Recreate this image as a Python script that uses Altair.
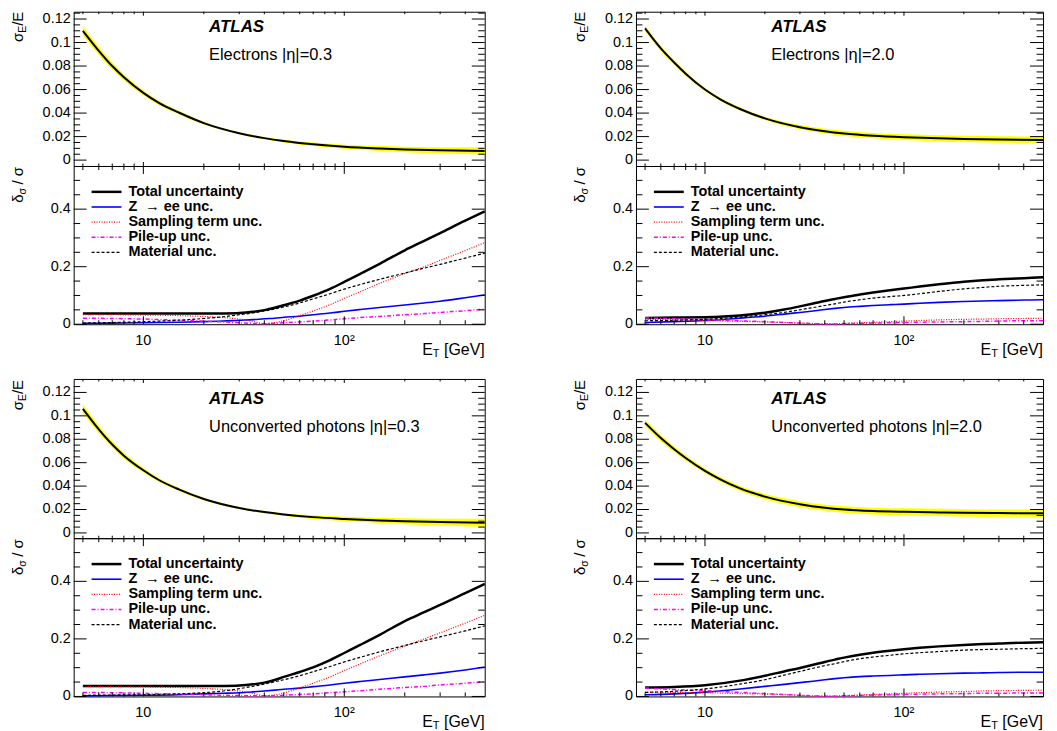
import altair as alt
import pandas as pd

FONT = "Liberation Sans"

# ---------------- data ----------------
E_TOP = [5, 6, 7, 8, 10, 12, 15, 20, 30, 40, 50, 70, 100, 150, 200, 300, 500]
E_UNC = [5, 7, 10, 15, 20, 25, 30, 35, 40, 45, 50, 60, 70, 85, 100, 120, 150, 200, 250, 300, 400, 500]

# Electrons |eta|=0.3
res_A = [0.110, 0.093, 0.080, 0.0705, 0.0572, 0.0485, 0.0405, 0.0315, 0.0229, 0.0187, 0.0162, 0.0134, 0.0113, 0.0098, 0.0090, 0.0083, 0.0078]
band_A = [0.0041, 0.0034, 0.0030, 0.0026, 0.0021, 0.0018, 0.0015, 0.0012, 0.0008, 0.0010, 0.0012, 0.0015, 0.0017, 0.0021, 0.0024, 0.0027, 0.0031]
tot_A = [0.037, 0.037, 0.037, 0.037, 0.037, 0.0375, 0.039, 0.043, 0.049, 0.057, 0.066, 0.082, 0.099, 0.123, 0.147, 0.175, 0.21, 0.257, 0.29, 0.317, 0.36, 0.392]
zee_A = [0.003, 0.004, 0.005, 0.007, 0.009, 0.011, 0.014, 0.016, 0.019, 0.021, 0.024, 0.028, 0.033, 0.039, 0.045, 0.051, 0.058, 0.067, 0.074, 0.080, 0.092, 0.102]
samp_A = [0.033, 0.033, 0.032, 0.030, 0.027, 0.023, 0.018, 0.010, 0.002, 0.006, 0.012, 0.030, 0.046, 0.068, 0.090, 0.113, 0.142, 0.176, 0.200, 0.222, 0.256, 0.284]
pile_A = [0.021, 0.020, 0.018, 0.014, 0.011, 0.008, 0.005, 0.003, 0.002, 0.003, 0.005, 0.008, 0.011, 0.015, 0.019, 0.023, 0.027, 0.033, 0.037, 0.041, 0.047, 0.052]
mat_A = [0.004, 0.006, 0.009, 0.014, 0.020, 0.026, 0.033, 0.039, 0.046, 0.053, 0.060, 0.074, 0.088, 0.106, 0.122, 0.138, 0.156, 0.178, 0.195, 0.208, 0.230, 0.247]

# Electrons |eta|=2.0
res_B = [0.112, 0.095, 0.083, 0.0735, 0.060, 0.0515, 0.0435, 0.0355, 0.028, 0.0246, 0.0227, 0.0208, 0.0195, 0.0185, 0.018, 0.0175, 0.0172]
band_B = [0.0025, 0.0021, 0.0019, 0.0017, 0.0014, 0.0014, 0.0013, 0.0014, 0.0018, 0.0020, 0.0022, 0.0023, 0.0024, 0.0026, 0.0027, 0.0027, 0.0028]
tot_B = [0.022, 0.023, 0.024, 0.030, 0.040, 0.051, 0.062, 0.072, 0.081, 0.088, 0.094, 0.103, 0.110, 0.118, 0.124, 0.131, 0.139, 0.148, 0.153, 0.156, 0.160, 0.163]
zee_B = [0.006, 0.009, 0.013, 0.021, 0.028, 0.035, 0.041, 0.046, 0.051, 0.055, 0.058, 0.062, 0.065, 0.068, 0.070, 0.073, 0.076, 0.079, 0.081, 0.082, 0.084, 0.085]
samp_B = [0.017, 0.015, 0.013, 0.010, 0.008, 0.006, 0.004, 0.002, 0.001, 0.002, 0.003, 0.005, 0.007, 0.009, 0.011, 0.013, 0.015, 0.017, 0.018, 0.019, 0.020, 0.021]
pile_B = [0.022, 0.019, 0.016, 0.012, 0.009, 0.006, 0.004, 0.002, 0.001, 0.001, 0.002, 0.003, 0.004, 0.005, 0.006, 0.007, 0.008, 0.009, 0.010, 0.011, 0.012, 0.012]
mat_B = [0.012, 0.014, 0.017, 0.025, 0.033, 0.041, 0.050, 0.058, 0.065, 0.071, 0.077, 0.085, 0.091, 0.096, 0.100, 0.106, 0.114, 0.123, 0.128, 0.132, 0.135, 0.137]

# Unconverted photons |eta|=0.3
res_C = [0.106, 0.0885, 0.0755, 0.066, 0.0535, 0.045, 0.0372, 0.029, 0.0213, 0.0178, 0.0158, 0.0135, 0.0120, 0.0107, 0.0100, 0.0093, 0.0087]
band_C = [0.0038, 0.0032, 0.0027, 0.0024, 0.0019, 0.0016, 0.0013, 0.0010, 0.0008, 0.0009, 0.0011, 0.0015, 0.0019, 0.0023, 0.0026, 0.0029, 0.0034]
tot_C = [0.036, 0.036, 0.036, 0.036, 0.036, 0.0365, 0.038, 0.042, 0.048, 0.057, 0.068, 0.085, 0.101, 0.126, 0.151, 0.179, 0.214, 0.262, 0.293, 0.318, 0.359, 0.391]
zee_C = [0.002, 0.003, 0.004, 0.006, 0.009, 0.011, 0.013, 0.016, 0.019, 0.022, 0.025, 0.029, 0.034, 0.040, 0.046, 0.052, 0.059, 0.068, 0.075, 0.081, 0.092, 0.102]
samp_C = [0.034, 0.034, 0.033, 0.031, 0.028, 0.024, 0.019, 0.011, 0.003, 0.005, 0.012, 0.030, 0.046, 0.068, 0.090, 0.113, 0.141, 0.175, 0.200, 0.221, 0.255, 0.282]
pile_C = [0.014, 0.013, 0.011, 0.008, 0.006, 0.004, 0.003, 0.002, 0.002, 0.003, 0.004, 0.007, 0.009, 0.013, 0.016, 0.020, 0.025, 0.031, 0.035, 0.040, 0.046, 0.051]
mat_C = [0.004, 0.005, 0.006, 0.009, 0.013, 0.019, 0.027, 0.035, 0.043, 0.051, 0.058, 0.072, 0.086, 0.104, 0.120, 0.136, 0.155, 0.177, 0.194, 0.207, 0.228, 0.245]

# Unconverted photons |eta|=2.0
res_D = [0.094, 0.081, 0.0715, 0.064, 0.053, 0.0455, 0.038, 0.031, 0.0245, 0.0215, 0.0200, 0.0187, 0.0180, 0.0175, 0.0172, 0.0170, 0.0168]
band_D = [0.0029, 0.0026, 0.0024, 0.0022, 0.0020, 0.0020, 0.0021, 0.0022, 0.0025, 0.0026, 0.0028, 0.0029, 0.0030, 0.0031, 0.0031, 0.0031, 0.0032]
tot_D = [0.031, 0.033, 0.039, 0.055, 0.072, 0.087, 0.099, 0.110, 0.120, 0.128, 0.135, 0.145, 0.152, 0.159, 0.164, 0.169, 0.174, 0.179, 0.182, 0.184, 0.187, 0.188]
zee_D = [0.006, 0.009, 0.015, 0.026, 0.035, 0.042, 0.048, 0.053, 0.058, 0.062, 0.065, 0.069, 0.071, 0.073, 0.075, 0.077, 0.079, 0.081, 0.082, 0.083, 0.084, 0.084]
samp_D = [0.015, 0.014, 0.013, 0.010, 0.008, 0.006, 0.004, 0.002, 0.001, 0.002, 0.003, 0.005, 0.007, 0.009, 0.011, 0.013, 0.015, 0.017, 0.019, 0.020, 0.021, 0.022]
pile_D = [0.029, 0.024, 0.020, 0.014, 0.010, 0.007, 0.004, 0.002, 0.001, 0.001, 0.002, 0.003, 0.005, 0.006, 0.007, 0.008, 0.009, 0.010, 0.011, 0.011, 0.012, 0.012]
mat_D = [0.014, 0.018, 0.026, 0.043, 0.058, 0.074, 0.087, 0.098, 0.107, 0.114, 0.121, 0.131, 0.137, 0.143, 0.148, 0.152, 0.156, 0.161, 0.163, 0.164, 0.166, 0.167]

LABELS = ["Electrons |\u03b7|=0.3", "Electrons |\u03b7|=2.0",
          "Unconverted photons |\u03b7|=0.3", "Unconverted photons |\u03b7|=2.0"]
LEGEND = ["Total uncertainty", "Z\u00a0 \u2192 ee unc.", "Sampling term unc.",
          "Pile-up unc.", "Material unc."]

TOP_Y_MAJOR = [0, 0.02, 0.04, 0.06, 0.08, 0.1, 0.12]
TOP_Y_LABELS = ["0", "0.02", "0.04", "0.06", "0.08", "0.1", "0.12"]
TOP_Y_MINOR = [0.005, 0.01, 0.015, 0.025, 0.03, 0.035, 0.045, 0.05, 0.055, 0.065,
               0.07, 0.075, 0.085, 0.09, 0.095, 0.105, 0.11, 0.115, 0.125]
BOT_Y_MAJOR = [0, 0.2, 0.4]
BOT_Y_LABELS = ["0", "0.2", "0.4"]
BOT_Y_MINOR = [0.05, 0.1, 0.15, 0.25, 0.3, 0.35, 0.45, 0.5]
X_MAJOR = [10, 100]
X_LABELS = ["10", "10\u00b2"]
X_MINOR = [5, 6, 7, 8, 9, 20, 30, 40, 50, 60, 70, 80, 90, 200, 300, 400]
X_DOMAIN = [4.5, 500]
TOP_DOMAIN_R1 = [-0.005, 0.1262]
TOP_DOMAIN_R2 = [-0.0045, 0.1315]
BOT_DOMAIN = [0, 0.55]

# ---------------- layout / style ----------------
W_L, W_R = 413, 409
H_TOP_R1, H_TOP_R2, H_BOT = 155, 160, 159
ROW_GAP, COL_GAP = 55, 152
Y_MAJ, Y_MIN = 13, 6.5
STYLES = [  # column, color, width, dash
    ("tot", "black", 2.5, None),
    ("zee", "#0000ff", 1.6, None),
    ("samp", "#ff0000", 1.2, [1, 1.5]),
    ("pile", "#ff00ff", 1.5, [4, 2, 1, 2]),
    ("mat", "black", 1.2, [3, 2]),
]

one = pd.DataFrame({"d": [0]})


def xscale():
    return alt.Scale(type="log", domain=X_DOMAIN, nice=False)


def yscale(dom):
    return alt.Scale(domain=dom, nice=False, zero=False)


def txt(t, x, y, size, **kw):
    return alt.Chart(one).mark_text(text=t, font=FONT, fontSize=size, color="black", **kw).encode(
        x=alt.value(x), y=alt.value(y))


def ticks(W, H, ysc, ymaj, ymin, xmaj_len, xmin_len):
    out = []
    for vals, L in [(ymaj, Y_MAJ), (ymin, Y_MIN)]:
        base = alt.Chart(pd.DataFrame({"t": vals})).mark_rule(color="black", strokeWidth=1)
        yy = alt.Y("t:Q", scale=ysc, axis=None)
        out.append(base.encode(y=yy, x=alt.value(0), x2=alt.value(L)))
        out.append(base.encode(y=yy, x=alt.value(W), x2=alt.value(W - L)))
    for vals, L in [(X_MAJOR, xmaj_len), (X_MINOR, xmin_len)]:
        base = alt.Chart(pd.DataFrame({"t": vals})).mark_rule(color="black", strokeWidth=1)
        xx = alt.X("t:Q", scale=xscale(), axis=None)
        out.append(base.encode(x=xx, y=alt.value(H), y2=alt.value(H - L)))
        out.append(base.encode(x=xx, y=alt.value(0), y2=alt.value(L)))
    return out


def ylabels(ysc, vals, labels):
    df = pd.DataFrame({"t": vals, "lab": labels})
    return alt.Chart(df).mark_text(font=FONT, fontSize=14.5, color="black", align="right",
                                   baseline="middle").encode(
        y=alt.Y("t:Q", scale=ysc, axis=None), x=alt.value(-3), text="lab:N")


def xlabels(H):
    df = pd.DataFrame({"t": X_MAJOR, "lab": X_LABELS})
    return alt.Chart(df).mark_text(font=FONT, fontSize=14.5, color="black", align="center",
                                   baseline="top").encode(
        x=alt.X("t:Q", scale=xscale(), axis=None), y=alt.value(H + 9.5), text="lab:N")


def rot_title(pieces, bx, y0):
    out = []
    y = y0
    for t, size, dx, w in pieces:
        out.append(alt.Chart(one).mark_text(text=t, font=FONT, fontSize=size, angle=270, align="right",
                                            baseline="alphabetic", color="black").encode(
            x=alt.value(bx + dx), y=alt.value(y)))
        y += w
    return out


def top_panel(res, half, label, W, H, dom, ty, title_y):
    df = pd.DataFrame({"E": E_TOP, "v": res,
                       "lo": [r - h for r, h in zip(res, half)],
                       "hi": [r + h for r, h in zip(res, half)]})
    ysc = yscale(dom)
    x = alt.X("E:Q", scale=xscale(), axis=None)
    band = alt.Chart(df).mark_area(color="#ffff00", opacity=1, interpolate="monotone").encode(
        x=x, y=alt.Y("lo:Q", scale=ysc, axis=None), y2="hi:Q")
    line = alt.Chart(df).mark_line(color="black", strokeWidth=2, interpolate="monotone").encode(
        x=x, y=alt.Y("v:Q", scale=ysc, axis=None))
    layers = [band, line] + ticks(W, H, ysc, TOP_Y_MAJOR, TOP_Y_MINOR, 4, 2.5)
    layers.append(ylabels(ysc, TOP_Y_MAJOR, TOP_Y_LABELS))
    layers.append(txt("ATLAS", 136, ty, 17, fontWeight="bold", fontStyle="italic", align="left"))
    layers.append(txt(label, 136, ty + 28, 16.5, align="left"))
    layers += rot_title([("/E", 15, 0, 14.2), ("E", 10.5, 3, 7.0), ("\u03c3", 15, 0, 9.0)], -51, title_y)
    return alt.layer(*layers).properties(width=W, height=H)


def bottom_panel(series, W):
    cols = [s[0] for s in STYLES]
    df = pd.DataFrame({"E": E_UNC, **{c: v for c, v in zip(cols, series)}})
    ysc = yscale(BOT_DOMAIN)
    layers = []
    for c, color, w, dash in STYLES:
        kw = {"color": color, "strokeWidth": w, "interpolate": "monotone"}
        if dash:
            kw["strokeDash"] = dash
        layers.append(alt.Chart(df).mark_line(**kw).encode(
            x=alt.X("E:Q", scale=xscale(), axis=None),
            y=alt.Y(c + ":Q", scale=ysc, axis=None)))
    layers += ticks(W, H_BOT, ysc, BOT_Y_MAJOR, BOT_Y_MINOR, 8, 4)
    layers.append(ylabels(ysc, BOT_Y_MAJOR, BOT_Y_LABELS))
    layers.append(xlabels(H_BOT))
    # legend
    for i, ((c, color, w, dash), name) in enumerate(zip(STYLES, LEGEND)):
        yy = 26 + 15.2 * i
        kw = {"color": color, "strokeWidth": w}
        if dash:
            kw["strokeDash"] = dash
        layers.append(alt.Chart(one).mark_rule(**kw).encode(x=alt.value(18), x2=alt.value(48), y=alt.value(yy)))
        layers.append(txt(name, 55, yy, 14.5, fontWeight="bold", align="left", baseline="middle"))
    layers += rot_title([("\u00a0/\u00a0\u03c3", 15, 0, 21.2), ("\u03c3", 10.5, 3, 6.3), ("\u03b4", 15, 0, 8.3)], -51, 1)
    # x title E_T [GeV]
    yb = H_BOT + 26
    layers.append(txt("\u00a0[GeV]", W, yb, 16, align="right"))
    layers.append(txt("T", W - 45.4, yb + 4, 11, align="right"))
    layers.append(txt("E", W - 52.1, yb, 16, align="right"))
    return alt.layer(*layers).properties(width=W, height=H_BOT)


def spacer(W):
    return alt.Chart(one).mark_point(opacity=0).encode(x=alt.value(0), y=alt.value(0)).properties(
        width=W, height=ROW_GAP, view=alt.ViewBackground(stroke="transparent"))


charts = [
    top_panel(res_A, band_A, LABELS[0], W_L, H_TOP_R1, TOP_DOMAIN_R1, 15.5, 0),
    top_panel(res_B, band_B, LABELS[1], W_R, H_TOP_R1, TOP_DOMAIN_R1, 15.5, 0),
    bottom_panel([tot_A, zee_A, samp_A, pile_A, mat_A], W_L),
    bottom_panel([tot_B, zee_B, samp_B, pile_B, mat_B], W_R),
    spacer(W_L), spacer(W_R),
    top_panel(res_C, band_C, LABELS[2], W_L, H_TOP_R2, TOP_DOMAIN_R2, 20, 1),
    top_panel(res_D, band_D, LABELS[3], W_R, H_TOP_R2, TOP_DOMAIN_R2, 20, 1),
    bottom_panel([tot_C, zee_C, samp_C, pile_C, mat_C], W_L),
    bottom_panel([tot_D, zee_D, samp_D, pile_D, mat_D], W_R),
]

chart = alt.concat(*charts, columns=2, spacing={"row": 0, "column": COL_GAP}, bounds="flush").properties(
    padding={"left": 2, "top": 0, "right": 0, "bottom": 2}, background="white"
).configure_view(stroke="black", strokeWidth=1)

chart.save("out.html", embed_options={"renderer": "svg", "actions": False})
